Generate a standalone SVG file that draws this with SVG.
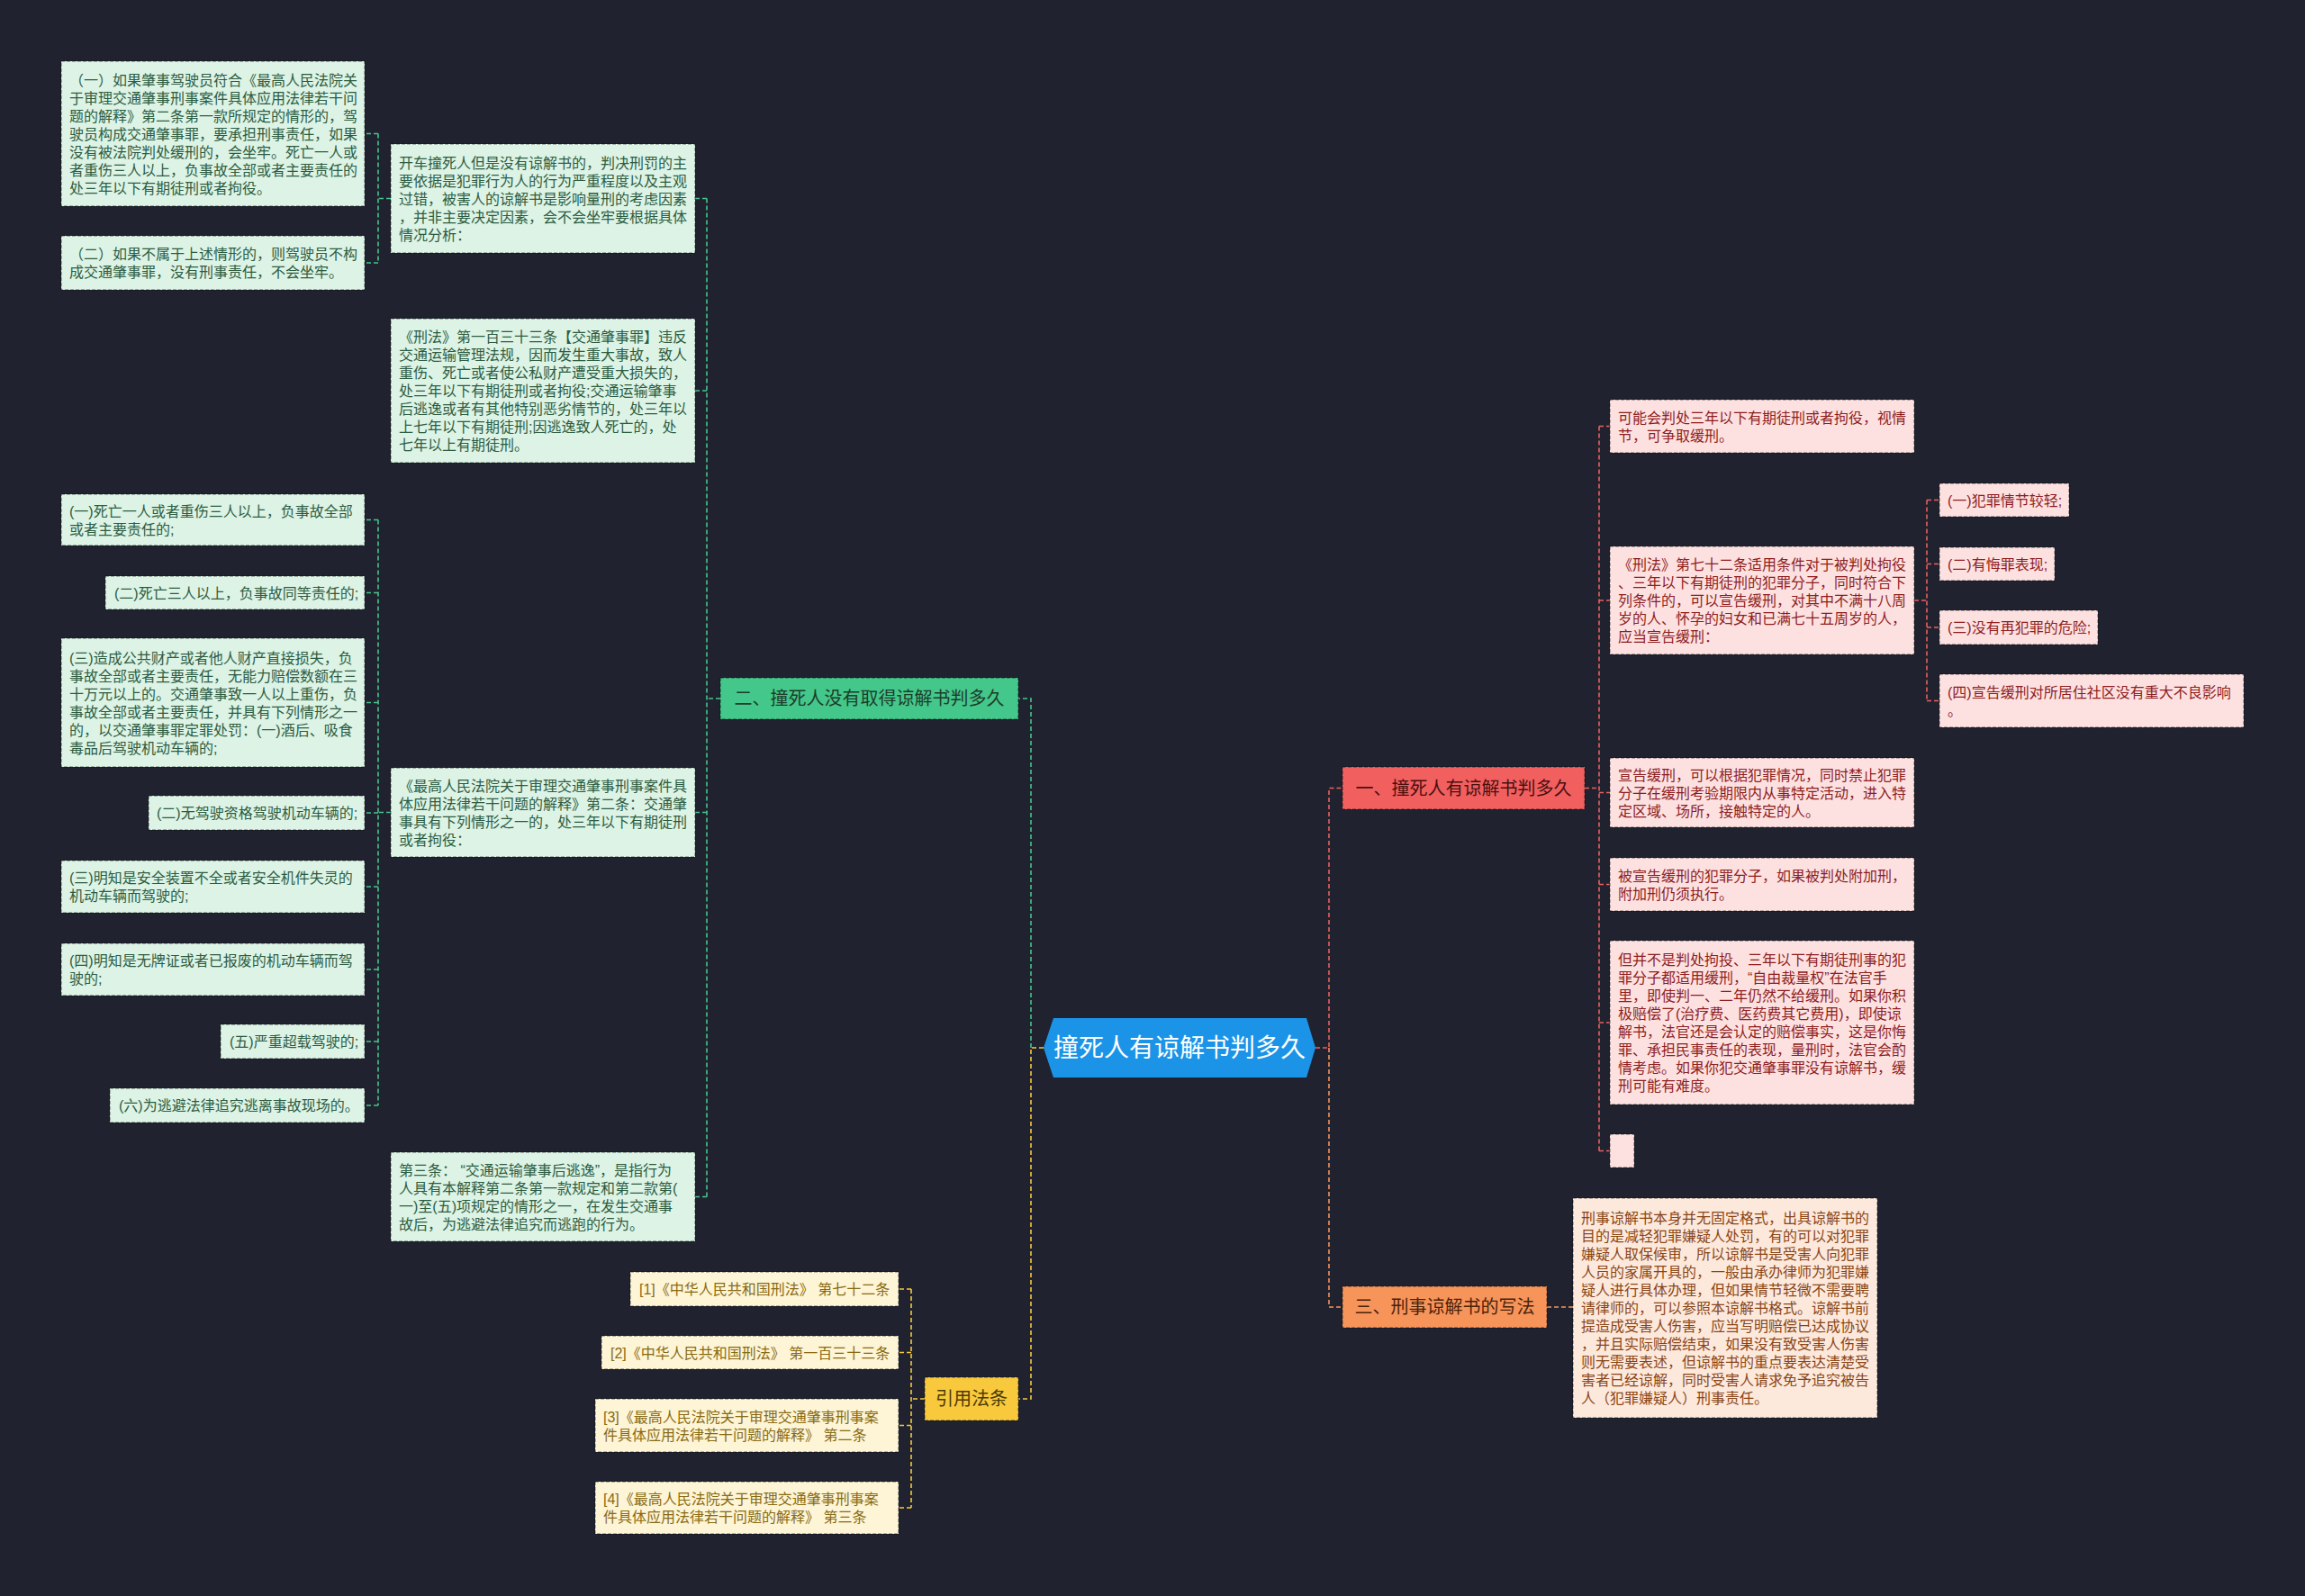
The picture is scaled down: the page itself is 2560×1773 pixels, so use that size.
<svg xmlns="http://www.w3.org/2000/svg" width="2560" height="1773" viewBox="0 0 2560 1773">
<style>
text{font-family:'Liberation Sans','Noto Sans CJK SC',sans-serif;font-size:16px}
.box{stroke:rgba(0,0,0,0.55);stroke-width:1;stroke-dasharray:4 2}
.lg rect{fill:#dcf3e5}.lg text{fill:#2c5c41}
.lp rect{fill:#fde1e1}.lp text{fill:#8e1d1d}
.lo rect{fill:#fde9dc}.lo text{fill:#8a4516}
.ly rect{fill:#fdf5d6}.ly text{fill:#8a6a12}
.main text{font-size:20px;text-anchor:middle}
.c{fill:none;stroke-width:1.6;stroke-dasharray:5 3}
.cg{stroke:#47c48a}.cr{stroke:#e8615f}.co{stroke:#f2955c}.cy{stroke:#f3c840}
</style>
<rect width="2560" height="1773" fill="#20232f"/>
<g id="connectors">
<path class="c cy" d="M1159,1164 H1145 V1554 H1131"/>
<path class="c cg" d="M1145,1164 V776 H1131"/>
<path class="c cg" d="M800,776 H785 M785,220.5 V1329.5 M785,220.5 H772 M785,434 H772 M785,902.5 H772 M785,1329.5 H772"/>
<path class="c cg" d="M434,220.5 H420 M420,148.5 V292 M420,148.5 H405 M420,292 H405"/>
<path class="c cg" d="M434,902.5 H420 M420,577.5 V1228 M420,577.5 H405 M420,658.5 H405 M420,780.5 H405 M420,903 H405 M420,985 H405 M420,1077 H405 M420,1157 H405 M420,1228 H405"/>
<path class="c cr" d="M1461,1164 H1476 V875.5 H1491"/>
<path class="c co" d="M1476,1164 V1452 H1491"/>
<path class="c cr" d="M1760,875.5 H1776 M1776,473.5 V1278.5 M1776,473.5 H1788 M1776,667 H1788 M1776,880.5 H1788 M1776,982.5 H1788 M1776,1136 H1788 M1776,1278.5 H1788"/>
<path class="c cr" d="M2126,667 H2140 M2140,555.5 V778.5 M2140,555.5 H2154 M2140,626.5 H2154 M2140,697 H2154 M2140,778.5 H2154"/>
<path class="c co" d="M1718,1452 H1747"/>
<path class="c cy" d="M1027,1554 H1012 M1012,1432 V1675 M1012,1432 H998 M1012,1502.5 H998 M1012,1583.5 H998 M1012,1675 H998"/>
</g>
<g id="root">
<polygon points="1170,1131 1451,1131 1461,1164 1451,1197 1170,1197 1159,1164" fill="#1b94e8"/>
<text x="1310" y="1174" text-anchor="middle" fill="#ffffff" style="font-size:28px">撞死人有谅解书判多久</text>
</g>
<g id="b2" class="main"><rect class="box" x="800" y="753" width="331" height="46" fill="#44c78a"/><text x="965.5" y="783" fill="#1c3d2b">二、撞死人没有取得谅解书判多久</text></g>
<g id="b1" class="main"><rect class="box" x="1491" y="852" width="269" height="47" fill="#f25f5f"/><text x="1625.5" y="882.5" fill="#4a1010">一、撞死人有谅解书判多久</text></g>
<g id="b3" class="main"><rect class="box" x="1491" y="1429" width="227" height="46" fill="#f7945a"/><text x="1604.5" y="1459" fill="#4a220a">三、刑事谅解书的写法</text></g>
<g id="b4" class="main"><rect class="box" x="1027" y="1530" width="104" height="48" fill="#f8c93c"/><text x="1079" y="1561" fill="#4a3a05">引用法条</text></g>

<g id="A" class="lg"><rect class="box" x="434" y="160" width="338" height="121"/><text x="443"><tspan x="443" y="186.5">开车撞死人但是没有谅解书的，判决刑罚的主</tspan><tspan x="443" y="206.5">要依据是犯罪行为人的行为严重程度以及主观</tspan><tspan x="443" y="226.5">过错，被害人的谅解书是影响量刑的考虑因素</tspan><tspan x="443" y="246.5">，并非主要决定因素，会不会坐牢要根据具体</tspan><tspan x="443" y="266.5">情况分析：</tspan></text></g>
<g id="B" class="lg"><rect class="box" x="434" y="354" width="338" height="160"/><text x="443"><tspan x="443" y="380">《刑法》第一百三十三条【交通肇事罪】违反</tspan><tspan x="443" y="400">交通运输管理法规，因而发生重大事故，致人</tspan><tspan x="443" y="420">重伤、死亡或者使公私财产遭受重大损失的，</tspan><tspan x="443" y="440">处三年以下有期徒刑或者拘役;交通运输肇事</tspan><tspan x="443" y="460">后逃逸或者有其他特别恶劣情节的，处三年以</tspan><tspan x="443" y="480">上七年以下有期徒刑;因逃逸致人死亡的，处</tspan><tspan x="443" y="500">七年以上有期徒刑。</tspan></text></g>
<g id="C" class="lg"><rect class="box" x="434" y="853" width="338" height="99"/><text x="443"><tspan x="443" y="878.5">《最高人民法院关于审理交通肇事刑事案件具</tspan><tspan x="443" y="898.5">体应用法律若干问题的解释》第二条：交通肇</tspan><tspan x="443" y="918.5">事具有下列情形之一的，处三年以下有期徒刑</tspan><tspan x="443" y="938.5">或者拘役：</tspan></text></g>
<g id="D" class="lg"><rect class="box" x="434" y="1280" width="338" height="99"/><text x="443"><tspan x="443" y="1305.5">第三条： “交通运输肇事后逃逸”，是指行为</tspan><tspan x="443" y="1325.5">人具有本解释第二条第一款规定和第二款第(</tspan><tspan x="443" y="1345.5">一)至(五)项规定的情形之一，在发生交通事</tspan><tspan x="443" y="1365.5">故后，为逃避法律追究而逃跑的行为。</tspan></text></g>

<g id="L1" class="lg"><rect class="box" x="68" y="68" width="337" height="161"/><text x="77"><tspan x="77" y="94.5">（一）如果肇事驾驶员符合《最高人民法院关</tspan><tspan x="77" y="114.5">于审理交通肇事刑事案件具体应用法律若干问</tspan><tspan x="77" y="134.5">题的解释》第二条第一款所规定的情形的，驾</tspan><tspan x="77" y="154.5">驶员构成交通肇事罪，要承担刑事责任，如果</tspan><tspan x="77" y="174.5">没有被法院判处缓刑的，会坐牢。死亡一人或</tspan><tspan x="77" y="194.5">者重伤三人以上，负事故全部或者主要责任的</tspan><tspan x="77" y="214.5">处三年以下有期徒刑或者拘役。</tspan></text></g>
<g id="L2" class="lg"><rect class="box" x="68" y="262" width="337" height="60"/><text x="77"><tspan x="77" y="288">（二）如果不属于上述情形的，则驾驶员不构</tspan><tspan x="77" y="308">成交通肇事罪，没有刑事责任，不会坐牢。</tspan></text></g>
<g id="L3" class="lg"><rect class="box" x="68" y="549" width="337" height="57"/><text x="77"><tspan x="77" y="573.5">(一)死亡一人或者重伤三人以上，负事故全部</tspan><tspan x="77" y="593.5">或者主要责任的;</tspan></text></g>
<g id="L4" class="lg"><rect class="box" x="117" y="640" width="288" height="37"/><text x="127" y="664.5">(二)死亡三人以上，负事故同等责任的;</text></g>
<g id="L5" class="lg"><rect class="box" x="68" y="709" width="337" height="143"/><text x="77"><tspan x="77" y="736.5">(三)造成公共财产或者他人财产直接损失，负</tspan><tspan x="77" y="756.5">事故全部或者主要责任，无能力赔偿数额在三</tspan><tspan x="77" y="776.5">十万元以上的。交通肇事致一人以上重伤，负</tspan><tspan x="77" y="796.5">事故全部或者主要责任，并具有下列情形之一</tspan><tspan x="77" y="816.5">的，以交通肇事罪定罪处罚：(一)酒后、吸食</tspan><tspan x="77" y="836.5">毒品后驾驶机动车辆的;</tspan></text></g>
<g id="L6" class="lg"><rect class="box" x="165" y="884" width="240" height="38"/><text x="174" y="909">(二)无驾驶资格驾驶机动车辆的;</text></g>
<g id="L7" class="lg"><rect class="box" x="68" y="956" width="337" height="58"/><text x="77"><tspan x="77" y="981">(三)明知是安全装置不全或者安全机件失灵的</tspan><tspan x="77" y="1001">机动车辆而驾驶的;</tspan></text></g>
<g id="L8" class="lg"><rect class="box" x="68" y="1048" width="337" height="58"/><text x="77"><tspan x="77" y="1073">(四)明知是无牌证或者已报废的机动车辆而驾</tspan><tspan x="77" y="1093">驶的;</tspan></text></g>
<g id="L9" class="lg"><rect class="box" x="245" y="1138" width="160" height="38"/><text x="255" y="1163">(五)严重超载驾驶的;</text></g>
<g id="L10" class="lg"><rect class="box" x="122" y="1209" width="283" height="38"/><text x="132" y="1234">(六)为逃避法律追究逃离事故现场的。</text></g>

<g id="R1" class="ly"><rect class="box" x="700" y="1413" width="298" height="38"/><text x="710" y="1438">[1]《中华人民共和国刑法》 第七十二条</text></g>
<g id="R2" class="ly"><rect class="box" x="668" y="1484" width="330" height="37"/><text x="678" y="1508.5">[2]《中华人民共和国刑法》 第一百三十三条</text></g>
<g id="R3" class="ly"><rect class="box" x="661" y="1554" width="337" height="59"/><text x="670"><tspan x="670" y="1579.5">[3]《最高人民法院关于审理交通肇事刑事案</tspan><tspan x="670" y="1599.5">件具体应用法律若干问题的解释》 第二条</tspan></text></g>
<g id="R4" class="ly"><rect class="box" x="661" y="1646" width="337" height="58"/><text x="670"><tspan x="670" y="1671">[4]《最高人民法院关于审理交通肇事刑事案</tspan><tspan x="670" y="1691">件具体应用法律若干问题的解释》 第三条</tspan></text></g>

<g id="P1" class="lp"><rect class="box" x="1788" y="444" width="338" height="59"/><text x="1797"><tspan x="1797" y="469.5">可能会判处三年以下有期徒刑或者拘役，视情</tspan><tspan x="1797" y="489.5">节，可争取缓刑。</tspan></text></g>
<g id="P2" class="lp"><rect class="box" x="1788" y="607" width="338" height="120"/><text x="1797"><tspan x="1797" y="633">《刑法》第七十二条适用条件对于被判处拘役</tspan><tspan x="1797" y="653">、三年以下有期徒刑的犯罪分子，同时符合下</tspan><tspan x="1797" y="673">列条件的，可以宣告缓刑，对其中不满十八周</tspan><tspan x="1797" y="693">岁的人、怀孕的妇女和已满七十五周岁的人，</tspan><tspan x="1797" y="713">应当宣告缓刑：</tspan></text></g>
<g id="Q1" class="lp"><rect class="box" x="2154" y="537" width="144" height="37"/><text x="2163" y="561.5">(一)犯罪情节较轻;</text></g>
<g id="Q2" class="lp"><rect class="box" x="2154" y="608" width="128" height="37"/><text x="2163" y="632.5">(二)有悔罪表现;</text></g>
<g id="Q3" class="lp"><rect class="box" x="2154" y="678" width="176" height="38"/><text x="2163" y="703">(三)没有再犯罪的危险;</text></g>
<g id="Q4" class="lp"><rect class="box" x="2154" y="749" width="338" height="59"/><text x="2163"><tspan x="2163" y="774.5">(四)宣告缓刑对所居住社区没有重大不良影响</tspan><tspan x="2163" y="794.5">。</tspan></text></g>
<g id="P3" class="lp"><rect class="box" x="1788" y="842" width="338" height="77"/><text x="1797"><tspan x="1797" y="866.5">宣告缓刑，可以根据犯罪情况，同时禁止犯罪</tspan><tspan x="1797" y="886.5">分子在缓刑考验期限内从事特定活动，进入特</tspan><tspan x="1797" y="906.5">定区域、场所，接触特定的人。</tspan></text></g>
<g id="P4" class="lp"><rect class="box" x="1788" y="953" width="338" height="59"/><text x="1797"><tspan x="1797" y="978.5">被宣告缓刑的犯罪分子，如果被判处附加刑，</tspan><tspan x="1797" y="998.5">附加刑仍须执行。</tspan></text></g>
<g id="P5" class="lp"><rect class="box" x="1788" y="1045" width="338" height="182"/><text x="1797"><tspan x="1797" y="1072">但并不是判处拘投、三年以下有期徒刑事的犯</tspan><tspan x="1797" y="1092">罪分子都适用缓刑，“自由裁量权”在法官手</tspan><tspan x="1797" y="1112">里，即使判一、二年仍然不给缓刑。如果你积</tspan><tspan x="1797" y="1132">极赔偿了(治疗费、医药费其它费用)，即使谅</tspan><tspan x="1797" y="1152">解书，法官还是会认定的赔偿事实，这是你悔</tspan><tspan x="1797" y="1172">罪、承担民事责任的表现，量刑时，法官会酌</tspan><tspan x="1797" y="1192">情考虑。如果你犯交通肇事罪没有谅解书，缓</tspan><tspan x="1797" y="1212">刑可能有难度。</tspan></text></g>
<g id="P6" class="lp"><rect class="box" x="1788" y="1260" width="27" height="37"/></g>
<g id="O1" class="lo"><rect class="box" x="1747" y="1331" width="338" height="244"/><text x="1756"><tspan x="1756" y="1359">刑事谅解书本身并无固定格式，出具谅解书的</tspan><tspan x="1756" y="1379">目的是减轻犯罪嫌疑人处罚，有的可以对犯罪</tspan><tspan x="1756" y="1399">嫌疑人取保候审，所以谅解书是受害人向犯罪</tspan><tspan x="1756" y="1419">人员的家属开具的，一般由承办律师为犯罪嫌</tspan><tspan x="1756" y="1439">疑人进行具体办理，但如果情节轻微不需要聘</tspan><tspan x="1756" y="1459">请律师的，可以参照本谅解书格式。谅解书前</tspan><tspan x="1756" y="1479">提造成受害人伤害，应当写明赔偿已达成协议</tspan><tspan x="1756" y="1499">，并且实际赔偿结束，如果没有致受害人伤害</tspan><tspan x="1756" y="1519">则无需要表述，但谅解书的重点要表达清楚受</tspan><tspan x="1756" y="1539">害者已经谅解，同时受害人请求免予追究被告</tspan><tspan x="1756" y="1559">人（犯罪嫌疑人）刑事责任。</tspan></text></g>
</svg>
